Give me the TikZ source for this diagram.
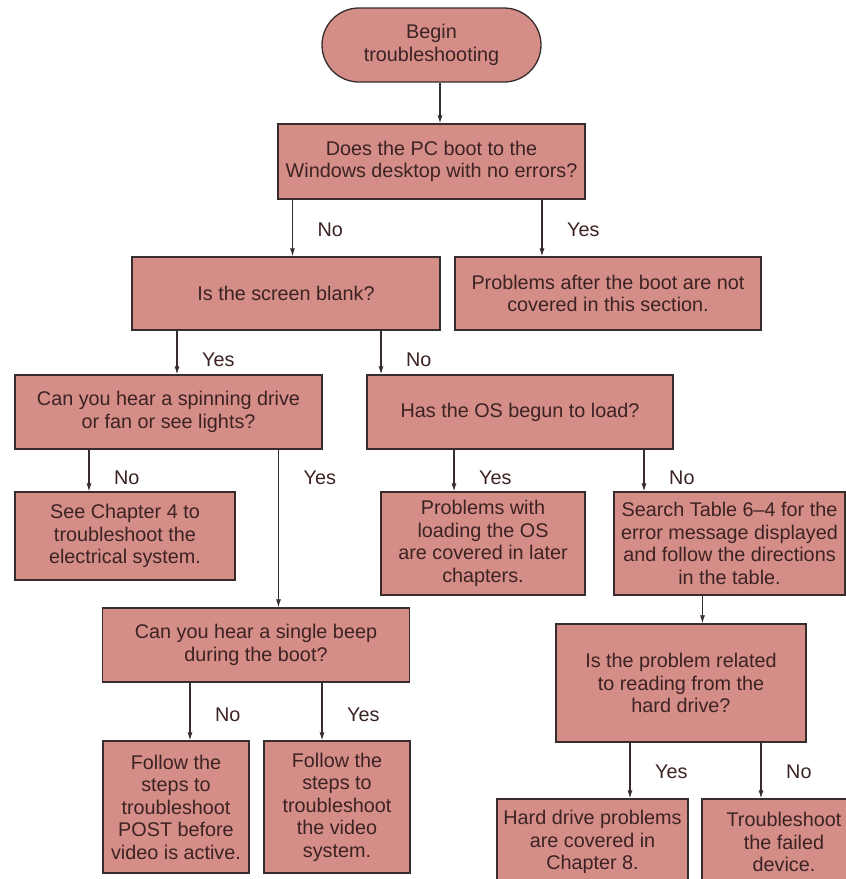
\documentclass[tikz,border=0pt]{standalone}
\usepackage{fontspec}
\setmainfont{Liberation Sans}
\usetikzlibrary{arrows.meta}
\usetikzlibrary{shapes.misc}

\definecolor{boxfill}{RGB}{213,141,136}
\definecolor{boxline}{RGB}{55,45,45}
\definecolor{boxtext}{RGB}{60,35,35}

\begin{document}
\begin{tikzpicture} [x=1pt, y=-1pt,
  box/.style={draw=boxline, line width=1.3pt, fill=boxfill, text=boxtext, align=center, inner sep=0pt, font=\fontsize{19.8}{22.5}\selectfont},
  lbl/.style={anchor=west, inner sep=0pt, text=boxtext, font=\fontsize{19.8}{22.5}\selectfont},
  arr/.style={-{Latex[length=8pt,width=5pt]}, line width=1.1pt, draw=boxline}]

\path[use as bounding box, clip] (0,0) rectangle (846,879);
\fill[white] (0,0) rectangle (846,879);

\node[box, rounded rectangle, minimum width=219pt, minimum height=74pt] (start) at (431.5,45) {Begin\\troubleshooting};

\node[box, minimum width=307pt, minimum height=75pt] (q1) at (431.5,161.5) {Does the PC boot to the\\Windows desktop with no errors?};
\node[box, minimum width=308pt, minimum height=73pt] (blank) at (286,293.5) {Is the screen blank?};
\node[box, minimum width=306pt, minimum height=73pt] (after) at (608,293.5) {Problems after the boot are not\\covered in this section.};
\node[box, minimum width=307pt, minimum height=74pt] (spin) at (168.5,412) {Can you hear a spinning drive\\or fan or see lights?};
\node[box, minimum width=306pt, minimum height=74pt] (osload) at (520,412) {Has the OS begun to load?};
\node[box, minimum width=220pt, minimum height=88pt] (chap4) at (125,536) {See Chapter 4 to\\troubleshoot the\\electrical system.};
\node[box, minimum width=204pt, minimum height=103pt] (loadprob) at (483,543.5) {Problems with\\loading the OS\\are covered in later\\chapters.};
\node[box, minimum width=231pt, minimum height=103pt] (search) at (729.5,543.5) {Search Table 6--4 for the\\error message displayed\\and follow the directions\\in the table.};
\node[box, minimum width=307pt, minimum height=74pt] (beep) at (256,645) {Can you hear a single beep\\during the boot?};
\node[box, minimum width=250pt, minimum height=118pt] (hdq) at (681,683) {Is the problem related\\to reading from the\\hard drive?};
\node[box, minimum width=146pt, minimum height=132pt] (post) at (176,807) {Follow the\\steps to\\troubleshoot\\POST before\\video is active.};
\node[box, minimum width=146pt, minimum height=132pt] (video) at (337,807) {Follow the\\steps to\\troubleshoot\\the video\\system.};
\node[box, minimum width=191pt, minimum height=86pt] (hdprob) at (592.5,842) {Hard drive problems\\are covered in\\Chapter 8.};
\node[box, minimum width=164pt, minimum height=86pt] (failed) at (784,842) {Troubleshoot\\the failed\\device.};

\foreach \src/\dst/\x in {start/q1/440, q1/blank/292.5, q1/after/542, blank/spin/177, blank/osload/381, spin/chap4/89, spin/beep/278.5, osload/loadprob/454, osload/search/644, search/hdq/702.5, beep/post/190, beep/video/322, hdq/hdprob/630, hdq/failed/761}
\draw[arr] (\src.south -| \x,0) -- (\dst.north -| \x,0);

\node[lbl] (no-q1) at (317.5,230) {No};
\node[lbl] (yes-q1) at (567,230) {Yes};
\node[lbl] (yes-blank) at (202,360) {Yes};
\node[lbl] (no-blank) at (406,360) {No};
\node[lbl] (no-spin) at (114,478) {No};
\node[lbl] (yes-spin) at (303.5,478) {Yes};
\node[lbl] (yes-os) at (479,478) {Yes};
\node[lbl] (no-os) at (669,478) {No};
\node[lbl] (no-beep) at (215,715) {No};
\node[lbl] (yes-beep) at (347,715) {Yes};
\node[lbl] (yes-hd) at (655,772) {Yes};
\node[lbl] (no-hd) at (786,772) {No};

\end{tikzpicture}
\end{document}
